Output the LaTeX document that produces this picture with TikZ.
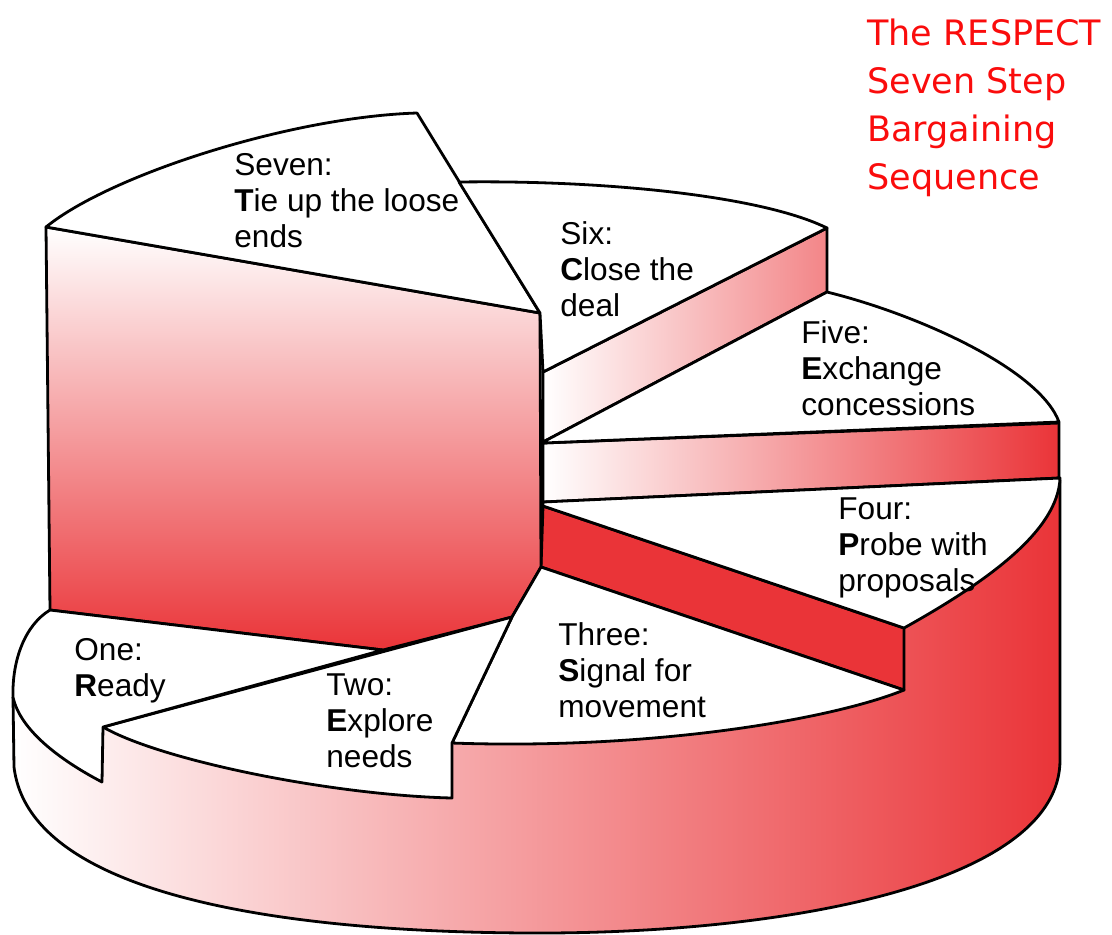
\documentclass[tikz,border=0pt]{standalone}
\usepackage{fontspec}
\setmainfont{Liberation Sans}
\newfontfamily\titlefont{DejaVu Sans}
\definecolor{myred}{RGB}{234,52,56}
\definecolor{titlered}{RGB}{250,12,12}
\begin{document}
\begin{tikzpicture}[x=0.5pt,y=-0.5pt,line width=1.4pt,line join=round,
  face/.style={draw=black,fill=white},
  lbl/.style={anchor=base west,inner sep=0pt,align=left,font=\fontsize{15.8}{18}\selectfont},
  ttl/.style={anchor=base west,inner sep=0pt,align=left,text=titlered,font=\titlefont\fontsize{17.5}{24}\selectfont}]
\useasboundingbox (0,0) rectangle (1112,934);
% cylinder side
\path[left color=white,right color=myred] (13,697) -- (14,767) .. controls (30,900) and (300,933) .. (539,933) .. controls (800,933) and (1060,880) .. (1060,760) -- (1060,478) -- (541,567) -- (50,610) -- cycle;
\draw (13,697) -- (14,767) .. controls (30,900) and (300,933) .. (539,933) .. controls (800,933) and (1060,880) .. (1060,760) -- (1060,480);
% step boxes
\path[draw,fill=myred] (543,506) -- (904,628) -- (904,690) -- (541,567) -- cycle;
\path[draw,left color=white,right color=myred] (543,443) -- (1059,423) -- (1059,478) -- (543,502) -- cycle;
\path[draw,left color=white,right color=myred!60!white] (543,372) -- (827,228) -- (827,292) -- (543,442) -- cycle;
\path[draw,top color=white,bottom color=myred] (46,227) -- (540,313) -- (541,567) -- (512,617) -- (383,650) -- (50,610) -- cycle;
% top faces
\draw[face] (46,227) .. controls (110,175) and (290,117) .. (417,113) -- (540,313) -- cycle;
\draw[face] (459,182) .. controls (600,180) and (760,195) .. (827,228) -- (543,372) -- (540,313) -- cycle;
\draw[face] (543,442) -- (827,292) .. controls (920,315) and (1040,370) .. (1059,422) -- (543,443) -- cycle;
\draw[face] (543,502) -- (1060,478) .. controls (1058,530) and (990,580) .. (904,628) -- (543,506) -- cycle;
\draw[face] (541,567) -- (904,690) .. controls (830,720) and (650,750) .. (452,743) -- (512,617) -- cycle;
\draw[face] (512,617) -- (103,727) .. controls (160,760) and (330,795) .. (452,798) -- (452,743) -- cycle;
\draw[face] (50,610) -- (383,650) -- (103,727) -- (102,782) .. controls (60,760) and (20,730) .. (13,697) .. controls (12,660) and (25,625) .. (50,610) -- cycle;
% labels (anchored at the baseline of the last line)
\node[lbl] (seven) at (233,247) {Seven:\\\textbf{T}ie up the loose\\ends};
\node[lbl] (six) at (559,316) {Six:\\\textbf{C}lose the\\deal};
\node[lbl] (five) at (800,415) {Five:\\\textbf{E}xchange\\concessions};
\node[lbl] (four) at (837,591) {Four:\\\textbf{P}robe with\\proposals};
\node[lbl] (three) at (557,717) {Three:\\\textbf{S}ignal for\\movement};
\node[lbl] (two) at (325,767) {Two:\\\textbf{E}xplore\\needs};
\node[lbl] (one) at (73,696) {One:\\\textbf{R}eady};
\node[ttl] (title) at (866,189) {The RESPECT\\Seven Step\\Bargaining\\Sequence};
\end{tikzpicture}
\end{document}
